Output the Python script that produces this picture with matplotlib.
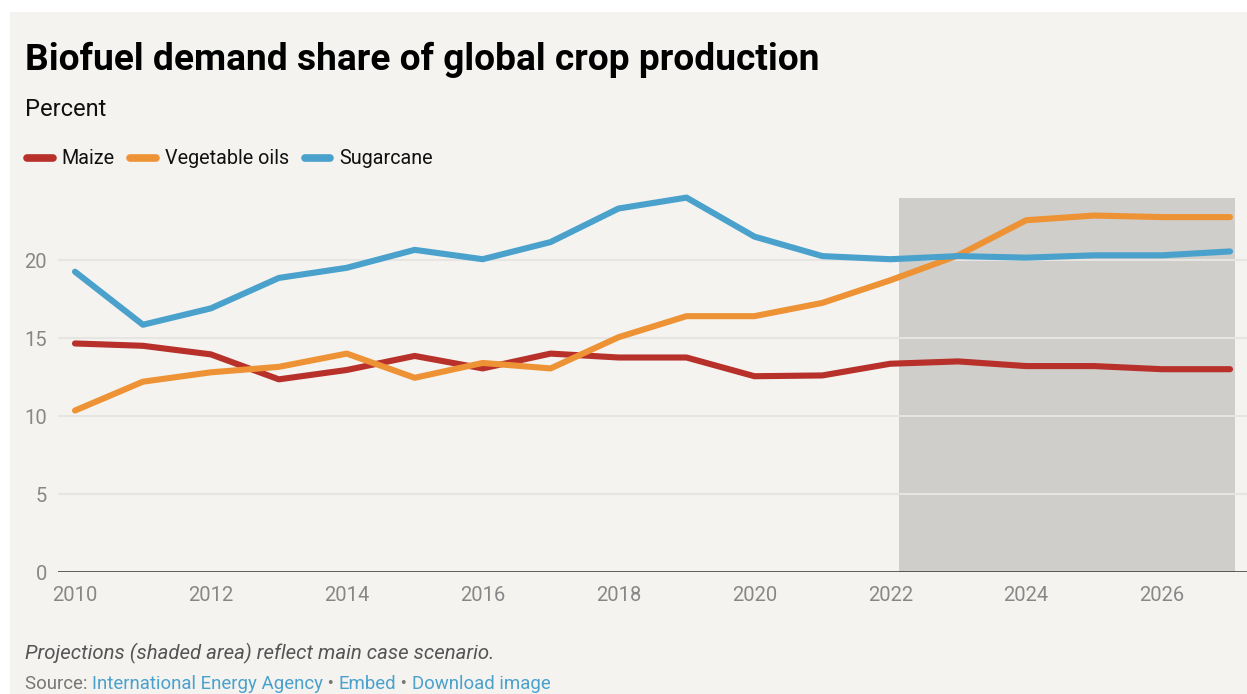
import matplotlib.pyplot as plt
from matplotlib.patches import Rectangle

plt.rcParams['font.family'] = ['Roboto', 'DejaVu Sans']

# data
years = list(range(2010, 2028))
maize = [14.65, 14.5, 13.95, 12.35, 12.95, 13.85, 13.05, 14.0, 13.75, 13.75,
         12.55, 12.6, 13.35, 13.5, 13.2, 13.2, 13.0, 13.0]
veg_oils = [10.35, 12.2, 12.8, 13.15, 14.0, 12.45, 13.4, 13.05, 15.05, 16.4,
            16.4, 17.25, 18.7, 20.3, 22.55, 22.85, 22.75, 22.75]
sugarcane = [19.25, 15.85, 16.9, 18.85, 19.5, 20.65, 20.05, 21.15, 23.3, 24.0,
             21.5, 20.25, 20.05, 20.25, 20.15, 20.3, 20.3, 20.55]
series_names = ['Maize', 'Vegetable oils', 'Sugarcane']
series_colors = ['#b8302a', '#ee9335', '#4aa1cc']
proj_start, proj_end, proj_top = 2022.13, 2027.07, 24.0
yticks = [0, 5, 10, 15, 20]
xticks = list(range(2010, 2027, 2))

W, H = 1247, 694
fig = plt.figure(figsize=(W / 100, H / 100), dpi=100, facecolor='white')

# panel background (white strip on top and left like the screenshot)
fig.patches.append(Rectangle((10 / W, 0), 1, (H - 12) / H, transform=fig.transFigure,
                             facecolor='#f4f3f0', edgecolor='none', zorder=-10))
fig.text(12 / W, (H + 9) / H, '(Agency),', fontsize=13, fontweight='bold',
         style='italic', va='baseline', color='black')


def px(x, y):
    return x / W, (H - y) / H


y0_px, per_unit = 572, 15.6
ymax = 24.6
ax_left, ax_right = 58, 1247
ax = fig.add_axes([ax_left / W, (H - y0_px) / H, (ax_right - ax_left) / W,
                   ymax * per_unit / H])
ax.set_facecolor('none')
ax.set_xlim(2009.75, 2027.25)
ax.set_ylim(0, ymax)

# projection shading
ax.add_patch(Rectangle((proj_start, 0), proj_end - proj_start, proj_top,
                       facecolor='#cfceca', edgecolor='none', zorder=1))
for t in yticks[1:]:
    ax.axhline(t, color='#e6e5e2', lw=1.5, zorder=1.5)
ax.axhline(0, color='#333333', lw=1.8, zorder=2)

for vals, name, col in zip([maize, veg_oils, sugarcane], series_names, series_colors):
    ax.plot(years, vals, color=col, lw=4.4, label=name, solid_capstyle='round',
            solid_joinstyle='round', zorder=3, clip_on=False)

for s in ax.spines.values():
    s.set_visible(False)
ax.set_yticks(yticks)
ax.set_xticks(xticks)
ax.tick_params(length=0, labelsize=14.5, colors='#878787')
ax.tick_params(axis='y', pad=8)
ax.tick_params(axis='x', pad=10)

# title, subtitle
fig.text(*px(25, 70), 'Biofuel demand share of global crop production',
         fontsize=26.7, fontweight='bold', va='baseline', color='black')
fig.text(*px(25, 116), 'Percent', fontsize=17, va='baseline', color='#111111')

leg = fig.legend(loc='center left', bbox_to_anchor=px(27, 159), ncol=3,
                 frameon=False, fontsize=14.2, handlelength=1.3, handletextpad=0.45,
                 columnspacing=0.8, borderpad=0, borderaxespad=0)
for ln in leg.get_lines():
    ln.set_linewidth(5.5)
for t in leg.get_texts():
    t.set_color('#111111')

# footnotes
fig.text(*px(25, 659), 'Projections (shaded area) reflect main case scenario.',
         fontsize=14.7, style='italic', va='baseline', color='#555555')

parts = [('Source: ', '#777777'), ('International Energy Agency', '#4aa1cc'),
         (' \u2022 ', '#777777'), ('Embed', '#4aa1cc'), (' \u2022 ', '#777777'),
         ('Download image', '#4aa1cc')]
renderer = fig.canvas.get_renderer()
x = 25
for txt, col in parts:
    t = fig.text(*px(x, 689), txt, fontsize=13.4, va='baseline', color=col)
    x += t.get_window_extent(renderer).width

fig.savefig('out.png', dpi=100, facecolor='white')
